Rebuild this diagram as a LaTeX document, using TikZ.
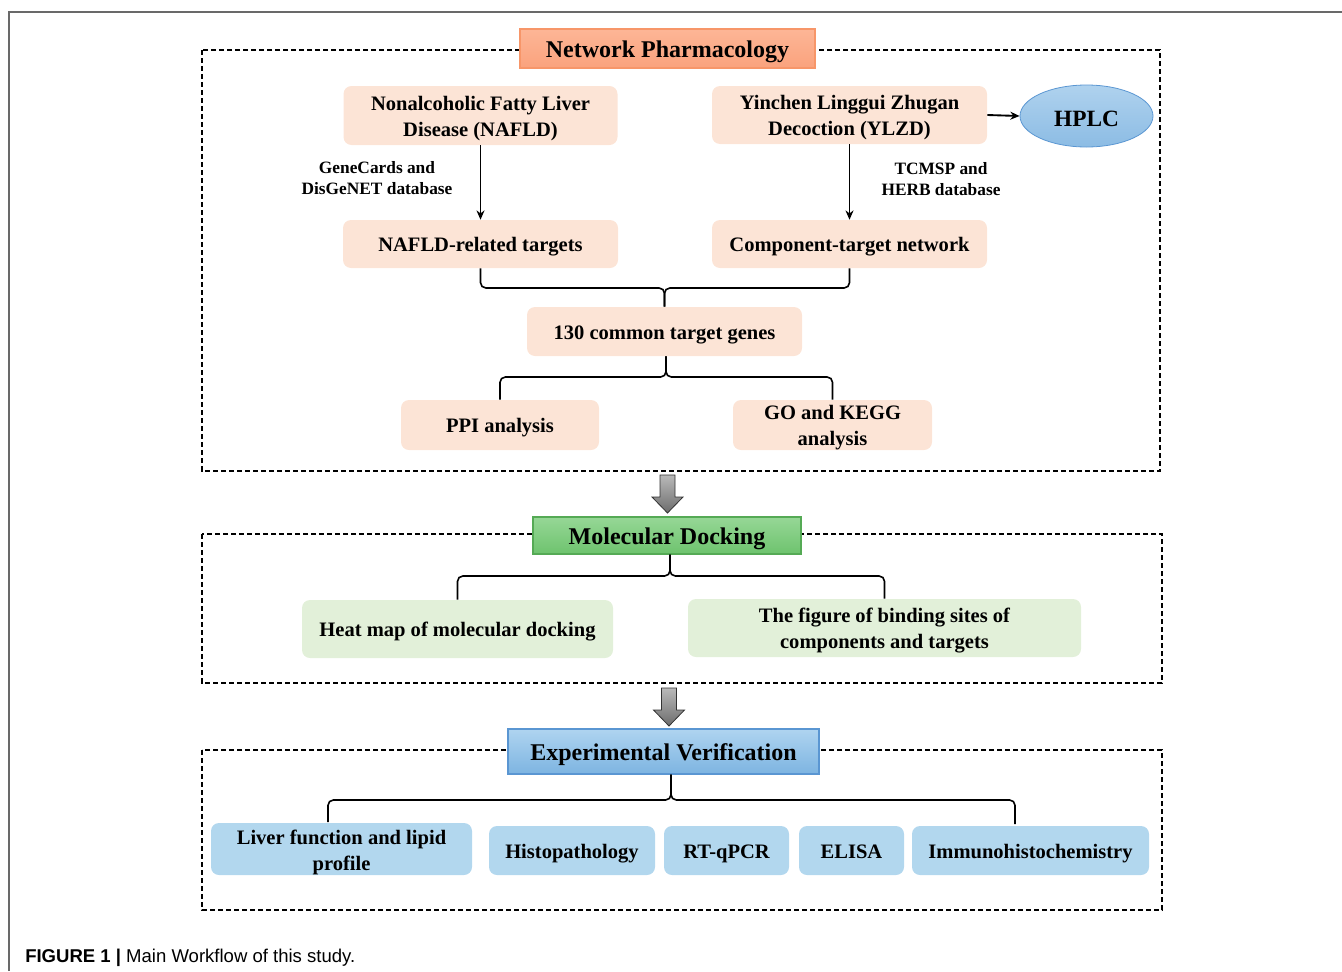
\documentclass[tikz,border=0pt]{standalone}
\usepackage{fontspec}
\setmainfont{Liberation Serif}
\newfontfamily\capfont{Liberation Sans}
\usetikzlibrary{arrows.meta,shapes.geometric}
\definecolor{salmonbox}{RGB}{252,228,214}
\definecolor{greenbox}{RGB}{226,240,217}
\definecolor{bluebox}{RGB}{178,215,238}
\definecolor{nptop}{RGB}{253,182,150}
\definecolor{npbot}{RGB}{250,162,125}
\definecolor{npline}{RGB}{247,150,105}
\definecolor{mdtop}{RGB}{150,215,150}
\definecolor{mdbot}{RGB}{110,195,110}
\definecolor{mdline}{RGB}{85,170,85}
\definecolor{evtop}{RGB}{175,212,240}
\definecolor{evbot}{RGB}{125,180,225}
\definecolor{evline}{RGB}{90,150,210}
\definecolor{hplctop}{RGB}{175,210,238}
\definecolor{hplcbot}{RGB}{140,188,228}
\definecolor{framegray}{RGB}{105,105,105}
\tikzset{
  box/.style={rounded corners=6pt, inner sep=0pt},
  boxtext/.style={align=center, inner sep=0pt, font=\fontsize{15.4}{19.5}\selectfont\bfseries},
  titletext/.style={align=center, inner sep=0pt, font=\fontsize{18}{22}\selectfont\bfseries},
  pbox/.style={box, fill=salmonbox},
  gbox/.style={box, fill=greenbox},
  bbox/.style={box, fill=bluebox},
  titlebox/.style={inner sep=0pt, line width=0.8pt},
  lbl/.style={align=center, inner sep=0pt, font=\fontsize{13}{15.75}\selectfont\bfseries},
  dashbox/.style={line width=1.2pt, dash pattern=on 4pt off 2pt},
  conn/.style={line width=1.2pt, rounded corners=4pt},
  arr/.style={line width=1.4pt, -{Stealth[length=7pt,width=6pt]}},
  grayarrow/.style={top color=gray!55, bottom color=gray!85!black, draw=gray!40!black, line width=0.6pt}
}
% #1 shape style, #2 name, #3 position, #4 text style, #5 text
\newcommand\bx[5]{\node[#1] (#2) at (#3) {};
  \node[#4] (#2-t) at ([yshift=-2.25pt]#2.center) {#5};}
\begin{document}
\begin{tikzpicture}[x=0.75pt,y=-0.75pt]
\useasboundingbox (0,0) rectangle (1342,971);
% outer frame
\draw[framegray, line width=1.1pt] (9,971) -- (9,12) -- (1342,12);

% ---------- Network Pharmacology ----------
\draw[dashbox] (202,50) rectangle (1160,471);
\bx{titlebox, top color=nptop, bottom color=npbot, draw=npline,
  minimum width=221.25pt, minimum height=29.25pt}{np}{667.5,48.5}{titletext}{Network Pharmacology}

\bx{pbox, minimum width=205.5pt, minimum height=44.25pt}{nafld}{480.5,115.5}{boxtext}
  {Nonalcoholic Fatty Liver\\Disease (NAFLD)}
\bx{pbox, minimum width=206.25pt, minimum height=43.5pt}{ylzd}{849.5,115}{boxtext}
  {Yinchen Linggui Zhugan\\Decoction (YLZD)}
\bx{ellipse, top color=hplctop, bottom color=hplcbot, draw=evline, line width=0.6pt,
  minimum width=99.75pt, minimum height=46.5pt, inner sep=0pt}{hplc}{1086.5,116}
  {inner sep=0pt, font=\fontsize{17.5}{20}\selectfont\bfseries}{HPLC}

\bx{pbox, minimum width=206.25pt, minimum height=36pt}{nafldt}{480.5,244}{boxtext}{NAFLD-related targets}
\bx{pbox, minimum width=206.25pt, minimum height=36pt}{ctn}{849.5,244}{boxtext}{Component-target network}

\node[lbl] (lab1) at (377,178) {GeneCards and\\DisGeNET database};
\node[lbl] (lab2) at (941,179) {TCMSP and\\HERB database};

\draw[arr] (ylzd.east) -- (hplc.west);
\draw[arr] (nafld.south) -- (nafldt.north);
\draw[arr] (ylzd.south) -- (ctn.north);

\bx{pbox, minimum width=206.25pt, minimum height=36.75pt}{common}{664.5,331.5}{boxtext}{130 common target genes}

\coordinate (b1) at (664.5,288);
\draw[conn] (nafldt.south) |- (b1) -- (common.north);
\draw[conn] (ctn.south) |- (b1) -- (common.north);

\bx{pbox, minimum width=148.5pt, minimum height=37.5pt}{ppi}{500,425}{boxtext}{PPI analysis}
\bx{pbox, minimum width=149.25pt, minimum height=37.5pt}{gokegg}{832.5,425}{boxtext}{GO and KEGG\\analysis}

\coordinate (b2) at (666,377);
\draw[conn] (common.south -| b2) -- (b2) -| (ppi.north);
\draw[conn] (common.south -| b2) -- (b2) -| (gokegg.north);

% gray arrow 1
\draw[grayarrow] (660,475) -- (675,475) -- (675,497) -- (683,497) -- (667.5,513)
  -- (652,497) -- (660,497) -- cycle;

% ---------- Molecular Docking ----------
\draw[dashbox] (202,534) rectangle (1162,683);
\bx{titlebox, top color=mdtop, bottom color=mdbot, draw=mdline,
  minimum width=201pt, minimum height=27.75pt}{md}{667,535.5}{titletext}{Molecular Docking}

\bx{gbox, minimum width=233.25pt, minimum height=43.5pt}{heat}{457.5,629}{boxtext}{Heat map of molecular docking}
\bx{gbox, minimum width=294.75pt, minimum height=43.5pt}{bind}{884.5,628}{boxtext}
  {The figure of binding sites of\\components and targets}

\coordinate (b3) at (670,576);
\draw[conn] (md.south -| b3) -- (b3) -| (heat.north);
\draw[conn] (md.south -| b3) -- (b3) -| (bind.north);

% gray arrow 2
\draw[grayarrow] (661.5,688) -- (676.5,688) -- (676.5,710) -- (684.5,710) -- (669,726)
  -- (653.5,710) -- (661.5,710) -- cycle;

% ---------- Experimental Verification ----------
\draw[dashbox] (202,750) rectangle (1162,910);
\bx{titlebox, top color=evtop, bottom color=evbot, draw=evline,
  minimum width=233.25pt, minimum height=33.75pt}{ev}{663.5,751.5}{titletext}{Experimental Verification}

\bx{bbox, minimum width=195.75pt, minimum height=39pt}{liver}{341.5,849}{boxtext}{Liver function and lipid\\profile}
\bx{bbox, minimum width=124.5pt, minimum height=36.75pt}{histo}{572,850.5}{boxtext}{Histopathology}
\bx{bbox, minimum width=93.75pt, minimum height=36.75pt}{rtq}{726.5,850.5}{boxtext}{RT-qPCR}
\bx{bbox, minimum width=78.75pt, minimum height=36.75pt}{elisa}{851.5,850.5}{boxtext}{ELISA\vphantom{y}}
\bx{bbox, minimum width=177.75pt, minimum height=36.75pt}{immuno}{1030.5,850.5}{boxtext}{Immunohistochemistry}

\coordinate (b4) at (671,800);
\coordinate (e4l) at (328,822);
\coordinate (e4r) at (1015,824);
\draw[conn] (ev.south -| b4) -- (b4) -| (e4l);
\draw[conn] (ev.south -| b4) -- (b4) -| (e4r);

% caption
\node[anchor=west, inner sep=0pt, font=\capfont\fontsize{13.9}{16}\selectfont] (cap) at (25,958)
  {\textbf{FIGURE 1 |} Main Workflow of this study.};
\end{tikzpicture}
\end{document}
